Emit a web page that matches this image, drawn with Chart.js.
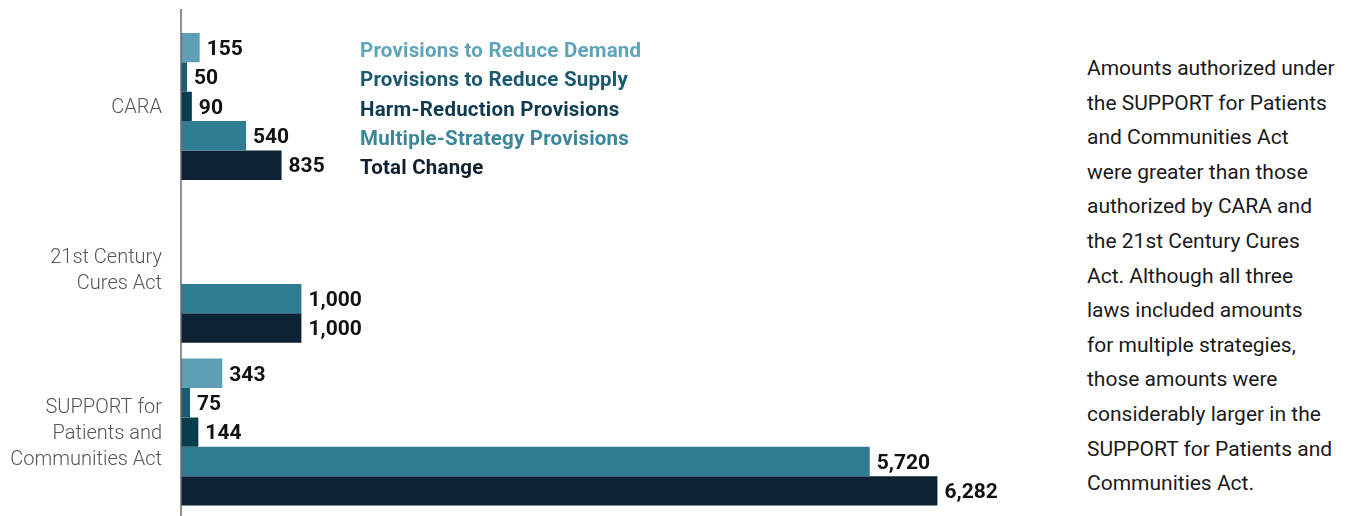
<!DOCTYPE html>
<html>
<head>
<meta charset="utf-8">
<script src="https://cdn.jsdelivr.net/npm/chart.js@4/dist/chart.umd.min.js"></script>
<style>
  html, body { margin: 0; padding: 0; background: #fff; }
  #wrap { position: relative; width: 1350px; height: 516px; overflow: hidden; }
  #chartBox { position: absolute; left: 0; top: 0; width: 1060px; height: 516px; }
  #legend { position: absolute; left: 360px; top: 36px; font-family: Roboto, "Liberation Sans", sans-serif; font-weight: 700; font-size: 20.5px; letter-spacing: 0.2px; line-height: 29.3px; }
  #note { position: absolute; left: 1087px; top: 51px; width: 260px; font-family: Roboto, "Liberation Sans", sans-serif; font-size: 21px; line-height: 34.6px; color: #1a1a1a; }
</style>
</head>
<body>
<div id="wrap">
  <div id="chartBox"><canvas id="c"></canvas></div>
  <div id="legend"></div>
  <div id="note">Amounts authorized under<br>the SUPPORT for Patients<br>and Communities Act<br>were greater than those<br>authorized by CARA and<br>the 21st Century Cures<br>Act. Although all three<br>laws included amounts<br>for multiple strategies,<br>those amounts were<br>considerably larger in the<br>SUPPORT for Patients and<br>Communities Act.</div>
</div>
<script>
const categories = ["CARA", ["21st Century", "Cures Act"], ["SUPPORT for", "Patients and", "Communities Act"]];
const seriesNames = ["Provisions to Reduce Demand", "Provisions to Reduce Supply", "Harm-Reduction Provisions", "Multiple-Strategy Provisions", "Total Change"];
const reduceDemand = [155, null, 343];
const reduceSupply = [50, null, 75];
const harmReduction = [90, null, 144];
const multipleStrategy = [540, 1000, 5720];
const totalChange = [835, 1000, 6282];
const barColors = ["#5e9fb6", "#1a5c72", "#0a3c50", "#307c93", "#0d2234"];
const legendColors = ["#5ea4ba", "#1b5a6e", "#0e3b4f", "#3a869c", "#0f2030"];

const seriesValues = [reduceDemand, reduceSupply, harmReduction, multipleStrategy, totalChange];

// HTML legend
const legendEl = document.getElementById('legend');
seriesNames.forEach((n, i) => {
  const d = document.createElement('div');
  d.textContent = n;
  d.style.color = legendColors[i];
  legendEl.appendChild(d);
});

const valueLabels = {
  id: 'valueLabels',
  afterDatasetsDraw(chart) {
    const ctx = chart.ctx;
    ctx.save();
    ctx.font = 'bold 21px Roboto, "Liberation Sans", sans-serif';
    ctx.fillStyle = '#111';
    ctx.textAlign = 'left';
    ctx.textBaseline = 'middle';
    chart.data.datasets.forEach((ds, di) => {
      const meta = chart.getDatasetMeta(di);
      meta.data.forEach((el, i) => {
        const v = ds.data[i];
        if (v === null || v === undefined) return;
        ctx.fillText(v.toLocaleString('en-US'), el.x + 7, el.y + 2);
      });
    });
    ctx.restore();
  }
};

const axisLine = {
  id: 'axisLine',
  afterDraw(chart) {
    const ctx = chart.ctx;
    const x = chart.chartArea.left;
    ctx.save();
    ctx.strokeStyle = '#6b6b6b';
    ctx.lineWidth = 1.5;
    ctx.beginPath();
    ctx.moveTo(x, 9);
    ctx.lineTo(x, 516);
    ctx.stroke();
    ctx.restore();
  }
};

new Chart(document.getElementById('c'), {
  type: 'bar',
  data: {
    labels: categories,
    datasets: seriesNames.map((n, i) => ({
      label: n,
      data: seriesValues[i],
      backgroundColor: barColors[i],
      borderWidth: 0,
      categoryPercentage: 0.903,
      barPercentage: 1.0
    }))
  },
  options: {
    indexAxis: 'y',
    responsive: true,
    maintainAspectRatio: false,
    animation: false,
    layout: { padding: { top: 25, bottom: 2.5, left: 0, right: 0 } },
    plugins: { legend: { display: false }, tooltip: { enabled: false } },
    scales: {
      x: { display: false, min: 0, max: 7300 },
      y: {
        grid: { display: false, drawTicks: false },
        border: { display: false },
        afterFit(scale) { scale.width = 181; scale.paddingTop = 0; scale.paddingBottom = 0; },
        ticks: {
          padding: 19,
          labelOffset: 2,
          color: '#555',
          font: { family: 'Roboto, "Liberation Sans", sans-serif', size: 20, weight: 300, lineHeight: 1.3 }
        }
      }
    }
  },
  plugins: [valueLabels, axisLine]
});
</script>
</body>
</html>
